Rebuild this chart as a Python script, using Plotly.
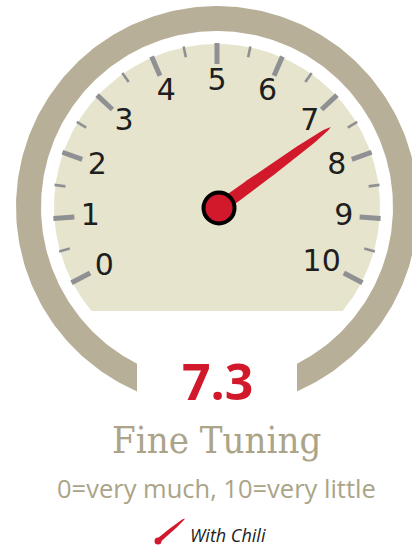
import numpy as np
import plotly.graph_objects as go

# ---- data ----
tick_values = list(range(11))
tick_labels = [str(v) for v in tick_values]
minor_values = [v + 0.5 for v in range(10)]
score = 7.3
score_label = "7.3"
title = "Fine Tuning"
subtitle = "0=very much, 10=very little"
series_name = "With Chili"

# ---- style / geometry ----
W, H = 412, 548
CX, CY = 217, 207          # dial centre (pixel coords, y down)
HX, HY = 219, 208          # hub centre
A0, DA = 207.5, 23.5       # angle of value 0 (deg) and degrees per unit
RING_OUT, RING_IN = 201, 176
RING_CUT = 80              # half width of the bottom gap
FACE_R, FACE_CUT_Y = 163, 311
RING_COL = "#B8AF98"
FACE_COL = "#E6E4CC"
TICK_COL = "#8F9093"
RED = "#D2192C"
TAN = "#ABA488"
DARK = "#1E1E1E"


def ang(v):
    return np.radians(A0 - DA * v)


def pt(v, r, cx=CX, cy=CY):
    a = ang(v)
    return cx + r * np.cos(a), cy - r * np.sin(a)


fig = go.Figure()

# outer ring with a gap at the bottom (vertical cuts)
def end_angle(r):
    dy = np.sqrt(r * r - RING_CUT * RING_CUT)
    return np.degrees(np.arctan2(-dy, -RING_CUT))  # left end, math coords

a_out_l = end_angle(RING_OUT) % 360
a_in_l = end_angle(RING_IN) % 360
t_out = np.radians(np.linspace(a_out_l, 180 - a_out_l, 300))
t_in = np.radians(np.linspace(180 - a_in_l, a_in_l, 300))
rx = np.concatenate([CX + RING_OUT * np.cos(t_out), CX + RING_IN * np.cos(t_in)])
ry = np.concatenate([CY - RING_OUT * np.sin(t_out), CY - RING_IN * np.sin(t_in)])
fig.add_trace(go.Scatter(x=rx, y=ry, fill="toself", fillcolor=RING_COL,
                         mode="lines", line=dict(width=0), hoverinfo="skip"))

# dial face, flat at the bottom
fa = np.degrees(np.arcsin(-(FACE_CUT_Y - CY) / FACE_R))
t_face = np.radians(np.linspace(180 - fa, fa, 300))
fig.add_trace(go.Scatter(x=CX + FACE_R * np.cos(t_face), y=CY - FACE_R * np.sin(t_face),
                         fill="toself", fillcolor=FACE_COL, mode="lines",
                         line=dict(width=0), hoverinfo="skip"))

# ticks
def tick_xy(vals, r0, r1):
    xs, ys = [], []
    for v in vals:
        x0, y0 = pt(v, r0)
        x1, y1 = pt(v, r1)
        xs += [x0, x1, None]
        ys += [y0, y1, None]
    return xs, ys

mx, my = tick_xy(minor_values, 153, 164)
fig.add_trace(go.Scatter(x=mx, y=my, mode="lines", line=dict(color=TICK_COL, width=2.6),
                         hoverinfo="skip"))
Mx, My = tick_xy(tick_values, 143, 164)
fig.add_trace(go.Scatter(x=Mx, y=My, mode="lines", line=dict(color=TICK_COL, width=5),
                         hoverinfo="skip"))

# tick labels
lx, ly = [], []
for v, lab in zip(tick_values, tick_labels):
    x, y = pt(v, 127 - 9 * (len(lab) - 1))
    lx.append(x)
    ly.append(y + 2)
fig.add_trace(go.Scatter(x=lx, y=ly, mode="text", text=tick_labels,
                         textposition="middle center",
                         textfont=dict(family="DejaVu Sans", size=30, color=DARK),
                         hoverinfo="skip"))

# needle
def needle(value, length, w0, ox, oy):
    a = ang(value)
    ux, uy = np.cos(a), -np.sin(a)
    nx, ny = np.sin(a), np.cos(a)
    t = np.linspace(0, 1, 40)
    w = w0 * np.sqrt(np.clip(1 - t ** 1.5, 0, 1))
    s = t * length
    xs = np.concatenate([ox + s * ux + w * nx, (ox + s * ux - w * nx)[::-1]])
    ys = np.concatenate([oy + s * uy + w * ny, (oy + s * uy - w * ny)[::-1]])
    return xs, ys

nx_, ny_ = needle(score, 138, 6.4, HX, HY)
fig.add_trace(go.Scatter(x=nx_, y=ny_, fill="toself", fillcolor=RED, mode="lines",
                         line=dict(width=0), name=series_name, hoverinfo="skip"))
fig.add_trace(go.Scatter(x=[HX], y=[HY], mode="markers",
                         marker=dict(size=31, color=RED, line=dict(color="black", width=4)),
                         hoverinfo="skip"))

# legend icon
lgx, lgy = needle(A0 / DA - 40 / DA, 35, 2.4, 158, 541)
fig.add_trace(go.Scatter(x=lgx, y=lgy, fill="toself", fillcolor=RED, mode="lines",
                         line=dict(width=0), hoverinfo="skip"))
fig.add_trace(go.Scatter(x=[158], y=[541], mode="markers",
                         marker=dict(size=7, color=RED), hoverinfo="skip"))

annotations = [
    dict(x=217, y=381, text=f"<b>{score_label}</b>", showarrow=False,
         font=dict(family="Open Sans", size=50, color=RED), xanchor="center", yanchor="middle"),
    dict(x=216.5, y=440, text=title, showarrow=False,
         font=dict(family="DejaVu Serif Condensed, DejaVu Serif", size=38, color=TAN),
         xanchor="center", yanchor="middle"),
    dict(x=216.5, y=488, text=subtitle, showarrow=False,
         font=dict(family="Open Sans", size=25.5, color=TAN),
         xanchor="center", yanchor="middle"),
    dict(x=189, y=535, text=f"<i>{series_name}</i>", showarrow=False, borderpad=0,
         font=dict(family="Open Sans", size=18, color=DARK),
         xanchor="left", yanchor="middle"),
]

fig.update_layout(
    width=W, height=H, margin=dict(l=0, r=0, t=0, b=0),
    paper_bgcolor="white", plot_bgcolor="white", showlegend=False,
    xaxis=dict(range=[0, W], visible=False, fixedrange=True),
    yaxis=dict(range=[H, 0], visible=False, fixedrange=True),
    annotations=annotations,
)

fig.write_html("out.html", config=dict(displayModeBar=False),
               post_script="document.body.style.margin='0';document.body.style.overflow='hidden';")
